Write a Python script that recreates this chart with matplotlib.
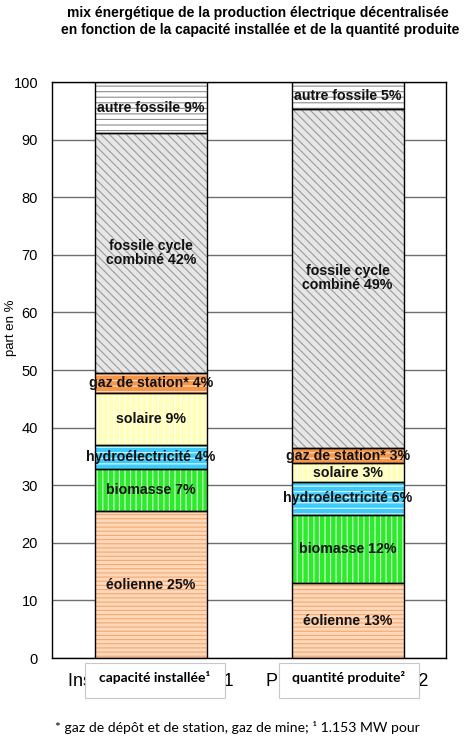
import matplotlib.pyplot as plt
from matplotlib.patches import Rectangle
import numpy as np

# données (en %)
categories = ['Installierte Leistung1', 'Produzierte Menge2']
sources = ['éolienne', 'biomasse', 'hydroélectricité', 'solaire',
           'gaz de station*', 'fossile cycle\ncombiné', 'autre fossile']
capacite = [25.5, 7.3, 4.2, 9.0, 3.4, 41.7, 8.9]
production = [13.0, 11.9, 5.7, 3.2, 2.7, 58.8, 4.7]
etiq_capacite = ['25%', '7%', '4%', '9%', '4%', '42%', '9%']
etiq_production = ['13%', '12%', '6%', '3%', '3%', '49%', '5%']
boites = ['capacité installée¹', 'quantité produite²']

# style de chaque source : fond, couleur des hachures, hachure
styles = [
    ('#FDD8BA', '#F6A86E', '----'),
    ('#2BEB2B', '#DDFFDD', '|||'),
    ('#3CCBFA', '#E8FAFF', '---'),
    ('#FFFFB8', '#FFFFFF', '|||'),
    ('#F79646', '#FFE2C8', '---'),
    ('#E6E6E6', '#9A9A9A', '\\\\\\\\'),
    ('#FFFFFF', '#8C8C8C', '---'),
]

plt.rcParams['font.family'] = ['Liberation Sans', 'DejaVu Sans']
plt.rcParams['hatch.linewidth'] = 0.8

fig = plt.figure(figsize=(4.7, 7.39), dpi=100)
ax = fig.add_axes([0.1106, 0.1096, 0.8383, 0.7794])

x = np.arange(len(categories))
largeur = 0.57
donnees = [capacite, production]
etiquettes = [etiq_capacite, etiq_production]

for i in range(len(categories)):
    bas = 0
    for j, nom in enumerate(sources):
        val = donnees[i][j]
        fond, coul_h, hachure = styles[j]
        ax.bar(x[i], val, largeur, bottom=bas, color=fond, edgecolor=coul_h,
               hatch=hachure, linewidth=0, zorder=2)
        ax.bar(x[i], val, largeur, bottom=bas, facecolor='none',
               edgecolor='black', linewidth=1.0, zorder=3)
        texte = nom + ' ' + etiquettes[i][j]
        ax.text(x[i], bas + val / 2, texte, ha='center', va='center',
                fontsize=10.2, fontweight='bold', color='#111111', zorder=4,
                linespacing=1.0)
        bas += val

ax.set_ylim(0, 100)
ax.set_xlim(-0.504, 1.5)
ax.set_yticks(range(0, 101, 10))
ax.yaxis.grid(True, color='#6E6E6E', linewidth=1.0, zorder=0)
ax.set_axisbelow(True)
ax.tick_params(axis='y', length=0, pad=10, labelsize=10.5)
ax.set_xticks(x)
ax.set_xticklabels(categories, fontsize=13)
ax.tick_params(axis='x', length=0, pad=11)
for s in ax.spines.values():
    s.set_linewidth(1.0)

ax.set_ylabel('part en %', fontsize=9.5)
ax.yaxis.set_label_coords(-0.09, 0.573)

# boîtes blanches posées sur les étiquettes
W, H = 470, 739
for i, b in enumerate(boites):
    x0 = 85 + i * 194
    fig.patches.append(Rectangle((x0 / W, 1 - 698 / H), 140 / W, 35 / H,
                                 transform=fig.transFigure, facecolor='white',
                                 edgecolor='#C8C8C8', linewidth=0.8, zorder=5))
    fig.text((x0 + 70) / W, 1 - 678 / H, b, ha='center', va='center',
             fontsize=10, fontweight='bold', family=['Lato', 'DejaVu Sans'],
             zorder=6)

fig.text(258 / W, 1 - 13 / H,
         'mix énergétique de la production électrique décentralisée',
         ha='center', va='center', fontsize=10, fontweight='bold')
fig.text(260 / W, 1 - 30 / H,
         'en fonction de la capacité installée et de la quantité produite',
         ha='center', va='center', fontsize=10, fontweight='bold')

fig.text(55 / W, 1 - 728 / H,
         '* gaz de dépôt et de station, gaz de mine; ¹ 1.153 MW pour',
         ha='left', va='center', fontsize=10.1, family=['Lato', 'DejaVu Sans'])

fig.savefig('out.png', dpi=100)
